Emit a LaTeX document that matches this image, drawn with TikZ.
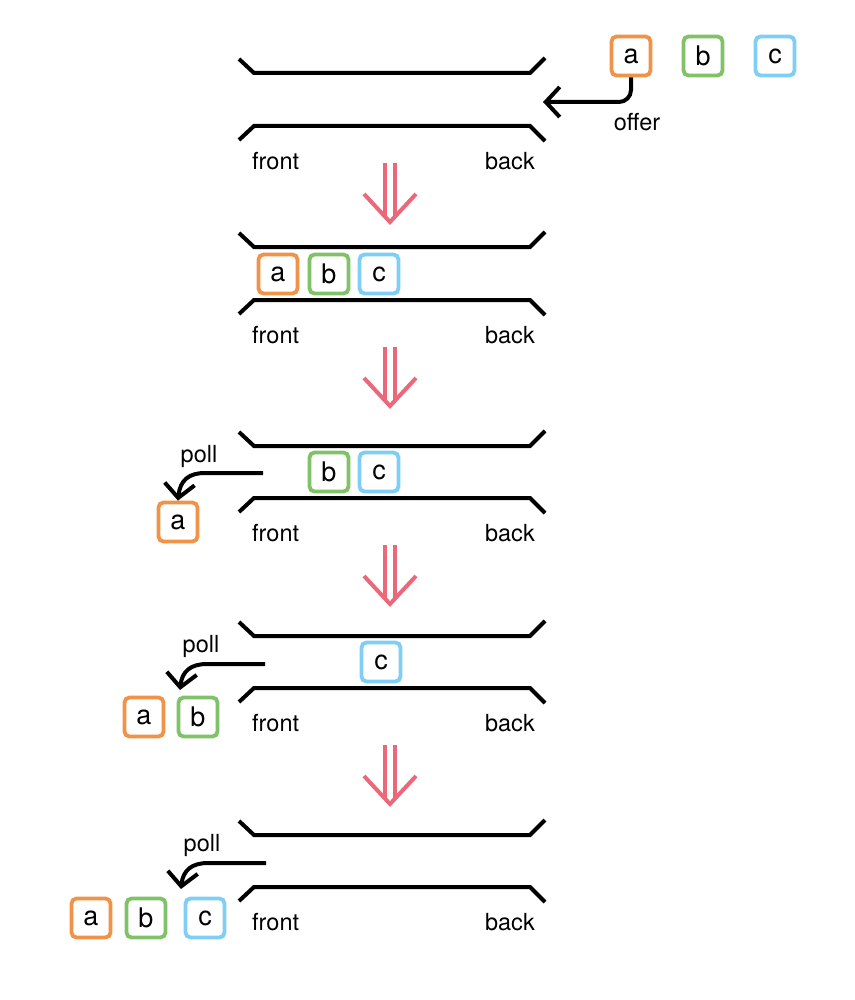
\documentclass[tikz,border=0pt]{standalone}
\usepackage{fontspec}
\setmainfont{TeX Gyre Heros}
\usetikzlibrary{arrows.meta}
\definecolor{cora}{RGB}{240,146,72}
\definecolor{cgrn}{RGB}{128,194,104}
\definecolor{cblu}{RGB}{126,206,245}
\definecolor{cred}{RGB}{234,104,122}
\tikzset{
  wall/.style={line width=4pt},
  itembox/.style={draw=#1, line width=3.8pt, rounded corners=5pt, fill=white,
    minimum width=39pt, minimum height=39pt, inner sep=0pt, font=\fontsize{27}{27}\selectfont},
  lbl/.style={font=\fontsize{23.5}{23.5}\selectfont, inner sep=0pt},
  movearrow/.style={line width=4pt, -{Straight Barb[length=14pt,width=30pt]}},
  stagearrow/.style={draw=cred, line width=4pt},
}
\newcommand{\queuetube}[2]{%
  % #1 = top line y, #2 = bottom line y
  \draw[wall] (239,#1-14) -- (254,#1) -- (530,#1) -- (545,#1-15);
  \draw[wall] (239,#2+14) -- (254,#2) -- (530,#2) -- (545,#2+15);
  \node[lbl, anchor=west] at (252,#2+35) {front};
  \node[lbl, anchor=east] at (535,#2+35) {back};
}
\newcommand{\stagearrowat}[1]{%
  \draw[stagearrow] (385,#1) -- (385,#1+53);
  \draw[stagearrow] (395,#1) -- (395,#1+53);
  \draw[stagearrow] (364,#1+31) -- (390,#1+59) -- (416,#1+31);
}
\begin{document}
\begin{tikzpicture}[x=1pt,y=-1pt]
\useasboundingbox (0,0) rectangle (854,1000);
% stage 1
\queuetube{73}{126}
\node[itembox=cora] (a1) at (631,56) {a};
\node[itembox=cgrn] (b1) at (703,56) {b};
\node[itembox=cblu] (c1) at (775,56) {c};
\coordinate (offerend) at (543,102);
\draw[movearrow, rounded corners=12pt] (a1.south) |- (offerend);
\node[lbl] (offerlbl) at (637,122) {offer};
\stagearrowat{163}
% stage 2
\queuetube{247}{300}
\node[itembox=cora] (a2) at (278,274) {a};
\node[itembox=cgrn] (b2) at (329,274) {b};
\node[itembox=cblu] (c2) at (379,274) {c};
\stagearrowat{347}
% stage 3
\queuetube{446}{498}
\node[itembox=cgrn] (b3) at (329,472) {b};
\node[itembox=cblu] (c3) at (379,472) {c};
\node[itembox=cora] (a3) at (178,522) {a};
\coordinate (p3) at (263,473);
\draw[movearrow] (p3) -- (205,473) .. controls (189,473) and (180,480) .. (a3.north);
\node[lbl] (poll3) at (199,456) {poll};
\stagearrowat{545}
% stage 4
\queuetube{636}{688}
\node[itembox=cblu] (c4) at (381,662) {c};
\node[itembox=cora] (a4) at (144,717) {a};
\node[itembox=cgrn] (b4) at (198,717) {b};
\coordinate (p4) at (265,664);
\coordinate (t4) at (180,690);
\draw[movearrow] (p4) -- (207,664) .. controls (191,664) and (182,671) .. (t4);
\node[lbl] (poll4) at (201,646) {poll};
\stagearrowat{745}
% stage 5
\queuetube{835}{887}
\node[itembox=cora] (a5) at (91,918) {a};
\node[itembox=cgrn] (b5) at (146,918) {b};
\node[itembox=cblu] (c5) at (205,918) {c};
\coordinate (p5) at (266,863);
\coordinate (t5) at (181,889);
\draw[movearrow] (p5) -- (208,863) .. controls (192,863) and (183,870) .. (t5);
\node[lbl] (poll5) at (202,845) {poll};
\end{tikzpicture}
\end{document}
